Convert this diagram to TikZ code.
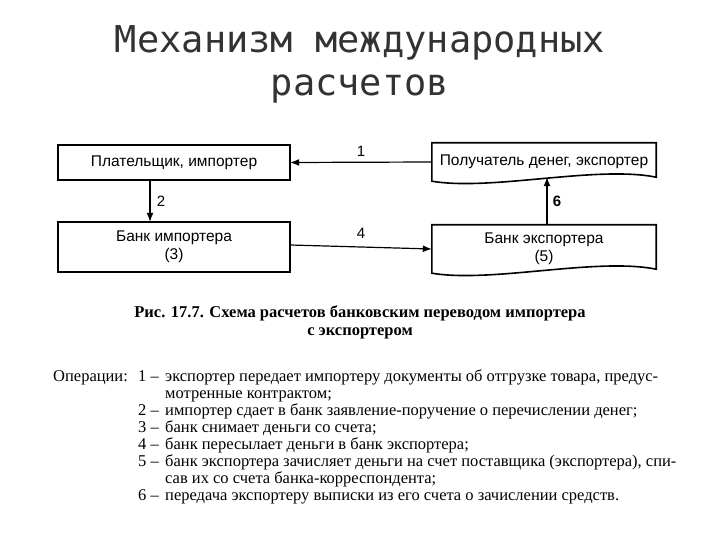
\documentclass[tikz,border=0pt]{standalone}
\usepackage{fontspec}
\setmainfont{Liberation Serif}
\newfontfamily\boxfont{Liberation Sans}
\newfontfamily\titlefont{DejaVu Sans Mono}
\usetikzlibrary{arrows.meta}
\begin{document}
\begin{tikzpicture}[x=1pt,y=-1pt,
  box/.style={minimum width=232pt,minimum height=#1,inner sep=0pt,font=\boxfont\fontsize{15.5}{18}\selectfont,align=center},
  outl/.style={line width=1.6pt},
  arr/.style={line width=1.2pt,-{Latex[length=9pt,width=7pt]}},
  lbl/.style={font=\boxfont\fontsize{15}{16}\selectfont},
  op/.style={anchor=base west,inner sep=0pt,font=\fontsize{16.5}{16}\selectfont}]
\useasboundingbox (0,0) rectangle (720,540);
\node[font=\titlefont\fontsize{37}{43}\selectfont,align=center,text=black!80] (title) at (360,64) {Механизм международных\\расчетов};
% boxes
\node[box=35pt] (b1) at (174,162.5) {Плательщик, импортер};
\draw[outl] (b1.north west) rectangle (b1.south east);
\node[box=38pt,minimum width=224pt] (b2) at (544,162) {Получатель денег, экспортер};
\draw[outl] (b2.north west) -- (b2.north east) -- ([yshift=4pt]b2.south east) .. controls +(-60,-12) and +(60,10) .. (b2.south west) -- cycle;
\node[box=50pt] (b3) at (174,247) {Банк импортера\\(3)};
\draw[outl] (b3.north west) rectangle (b3.south east);
\node[box=48pt,minimum width=224pt] (b4) at (544,249) {Банк экспортера\\(5)};
\draw[outl] (b4.north west) -- (b4.north east) -- ([yshift=4pt]b4.south east) .. controls +(-60,-12) and +(60,10) .. (b4.south west) -- cycle;
% arrows
\draw[arr] (b2.west) -- (b1.east) node[lbl,midway,above=2pt] (l1) {1};
\draw[arr] (b1.south -| 150,0) -- (b3.north -| 150,0) node[lbl,midway,right=3pt] (l2) {2};
\draw[arr] ([yshift=2pt]b3.east) -- ([yshift=0pt]b4.west) node[lbl,midway,above=5pt] (l4) {4};
\draw[arr] (b4.north -| 547,0) -- ([yshift=4pt]b2.south -| 547,0) node[lbl,midway,right=2pt,font=\boxfont\bfseries\fontsize{15}{16}\selectfont] (l6) {6};
% caption
\node[font=\bfseries\fontsize{16.5}{18}\selectfont,align=center] (cap) at (360,322) {Рис. 17.7. Схема расчетов банковским переводом импортера\\с экспортером};
% operations
\node[op] (o0) at (53,381) {Операции:};
\foreach \n/\y/\t in {1/381/экспортер передает импортеру документы об отгрузке товара{,} предус-,
 2/415/импортер сдает в банк заявление-поручение о перечислении денег;,
 3/432/банк снимает деньги со счета;,
 4/449/банк пересылает деньги в банк экспортера;,
 5/466/банк экспортера зачисляет деньги на счет поставщика (экспортера){,} спи-,
 6/500/передача экспортеру выписки из его счета о зачислении средств.}{
  \node[op] (n\n) at (138,\y) {\n\ –};
  \node[op] (t\n) at (165,\y) {\t};
}
\node[op] (t1b) at (165,398) {мотренные контрактом;};
\node[op] (t5b) at (165,483) {сав их со счета банка-корреспондента;};
\end{tikzpicture}
\end{document}
